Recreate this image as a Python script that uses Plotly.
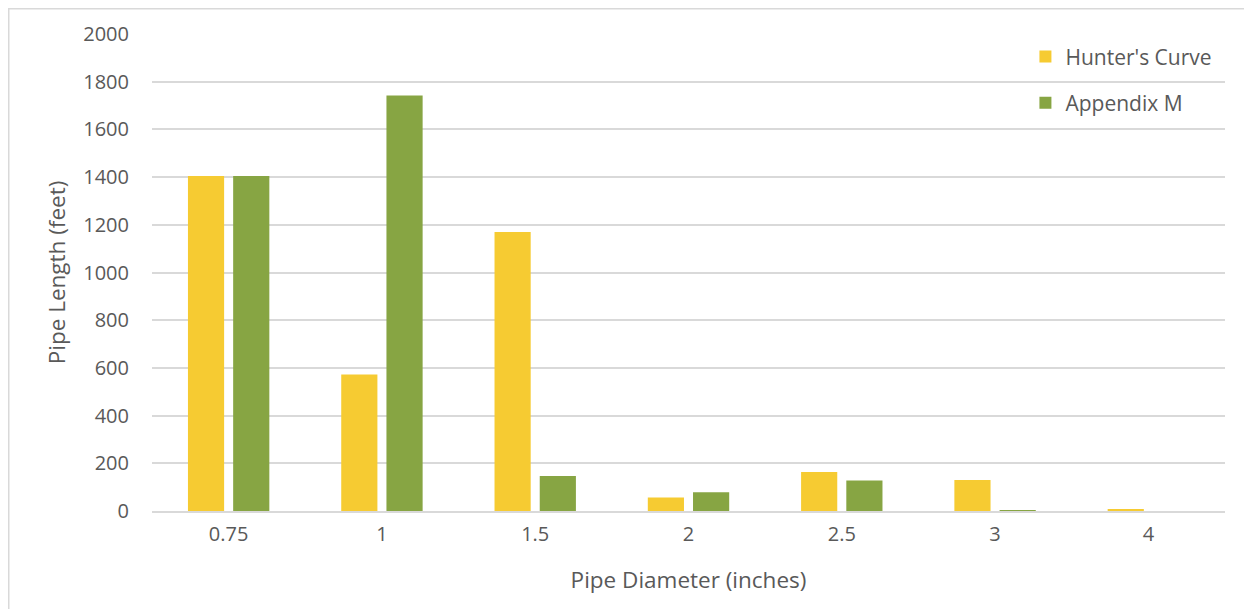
import plotly.graph_objects as go

categories = ["0.75", "1", "1.5", "2", "2.5", "3", "4"]
hunters_curve = [1405, 572, 1170, 57, 164, 130, 8]
appendix_m = [1405, 1742, 147, 79, 128, 4, 0]
y_ticks = [0, 200, 400, 600, 800, 1000, 1200, 1400, 1600, 1800, 2000]

FONT = "Open Sans"
GRAY = "#595959"

fig = go.Figure()
fig.add_trace(go.Bar(x=categories, y=hunters_curve, name="Hunter's Curve",
                     marker=dict(color="#F6CB32", line=dict(width=0)),
                     legendgroup="a"))
fig.add_trace(go.Bar(x=categories, y=appendix_m, name="Appendix M",
                     marker=dict(color="#87A543", line=dict(width=0)),
                     legendgroup="b"))

fig.update_layout(
    width=1252, height=609,
    margin=dict(l=144, r=35, t=26, b=106),
    paper_bgcolor="white", plot_bgcolor="white",
    font=dict(family=FONT, size=20, color=GRAY),
    barmode="group", bargap=0.41, bargroupgap=0.2,
    legend=dict(x=0.814, y=0.995, xanchor="left", yanchor="top",
                font=dict(family=FONT, size=21, color=GRAY),
                tracegroupgap=16, traceorder="grouped",
                bgcolor="rgba(0,0,0,0)"),
    xaxis=dict(
        type="category", showgrid=False, ticks="", showline=True,
        linecolor="#D9D9D9", linewidth=1.5, ticklabelstandoff=4,
        title=dict(text="Pipe Diameter (inches)", font=dict(size=22.5, color=GRAY), standoff=26),
        tickfont=dict(size=20, color=GRAY),
    ),
    yaxis=dict(
        range=[0, 2000], tickvals=y_ticks, showgrid=True, gridcolor="#D9D9D9",
        gridwidth=1.5, zeroline=False, showline=False, ticks="",
        ticklabelstandoff=22,
        title=dict(text="Pipe Length (feet)", font=dict(size=22.5, color=GRAY), standoff=11),
        tickfont=dict(size=20, color=GRAY),
    ),
)

fig.add_shape(type="rect", xref="paper", yref="paper",
              x0=-0.1335, x1=1.1, y0=-0.5, y1=1.0529,
              line=dict(color="#D9D9D9", width=1.5), fillcolor="rgba(0,0,0,0)", layer="above")

fig.write_html("out.html")
